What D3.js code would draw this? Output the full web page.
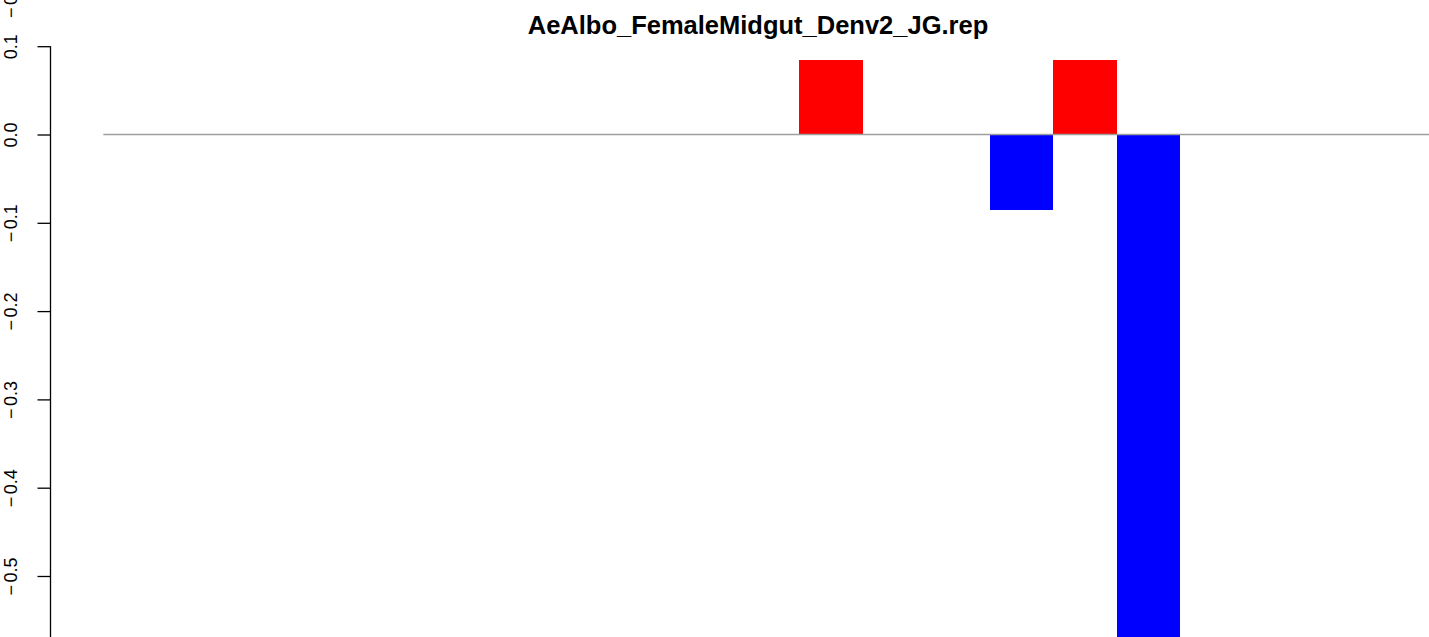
<!DOCTYPE html>
<html>
<head>
<meta charset="utf-8">
<script src="https://cdn.jsdelivr.net/npm/d3@7"></script>
<style>
  html, body { margin: 0; padding: 0; background: #fff; }
  svg { display: block; }
</style>
</head>
<body>
<svg id="chart" width="1429" height="637"></svg>
<script>
// ---- data ----
const title = "AeAlbo_FemaleMidgut_Denv2_JG.rep";
const categories = ["1","2","3","4","5","6","7","8","9","10","11","12","13","14","15","16","17","18","19","20","21"];
const values = [0,0,0,0,0,0,0,0,0,0,0,0.0845,0,0,-0.0855,0.0845,-0.60,0,0,0,0];
const yTicks = [0.1, 0.0, -0.1, -0.2, -0.3, -0.4, -0.5];
const clippedLabel = -0.6;

// ---- layout ----
const W = 1429, H = 637;
const FONT = "Liberation Sans, Arial, Helvetica, sans-serif";
const svg = d3.select("#chart");

const y = d3.scaleLinear().domain([-0.57, 0.1]).range([637.8, 46.2]);
const x = d3.scaleBand().domain(categories).range([99.9, 1434.5]).paddingInner(0).paddingOuter(0);

// write an R-style label (wide minus) into a text selection
function writeLabel(sel, v) {
  sel.text(null);
  if (v < 0) {
    sel.append("tspan").text("\u2212");
    sel.append("tspan").attr("dx", 2.5).text(Math.abs(v).toFixed(1));
  } else {
    sel.append("tspan").text(Math.abs(v).toFixed(1));
  }
}

// bars
svg.append("g").selectAll("rect").data(values.map((v, i) => ({c: categories[i], v})).filter(d => d.v !== 0))
  .join("rect")
  .attr("x", d => x(d.c))
  .attr("width", x.bandwidth())
  .attr("y", d => y(Math.max(0, d.v)))
  .attr("height", d => Math.abs(y(d.v) - y(0)))
  .attr("fill", d => d.v > 0 ? "#ff0000" : "#0000ff")
  .attr("shape-rendering", "crispEdges");

// zero line
svg.append("line")
  .attr("x1", 103.3).attr("x2", W)
  .attr("y1", y(0)).attr("y2", y(0))
  .attr("stroke", "#9e9e9e").attr("stroke-width", 1.6);

// y axis
const axX = 50.5;
const axis = d3.axisLeft(y).tickValues(yTicks).tickSize(13);
const gA = svg.append("g").attr("transform", `translate(${axX},0)`).call(axis);
gA.select(".domain").remove();
gA.attr("font-size", null).attr("font-family", null);
gA.append("line").attr("x1", 0).attr("x2", 0).attr("y1", y(0.1)).attr("y2", H)
  .attr("stroke", "#000").attr("stroke-width", 1.3);
gA.selectAll(".tick line").attr("stroke", "#000").attr("stroke-width", 1.3);
gA.selectAll(".tick text")
  .attr("x", null).attr("dy", null)
  .attr("transform", `translate(${17 - axX},0) rotate(-90)`)
  .attr("text-anchor", "middle")
  .style("font-family", FONT)
  .style("font-size", "18px")
  .attr("fill", "#000")
  .each(function(d) { writeLabel(d3.select(this), d); });

// clipped label from panel above
const cl = svg.append("text")
  .attr("transform", `translate(17,-1) rotate(-90)`)
  .attr("text-anchor", "middle")
  .style("font-family", FONT)
  .style("font-size", "18px");
writeLabel(cl, clippedLabel);

// title
svg.append("text")
  .attr("x", 758).attr("y", 34)
  .attr("text-anchor", "middle")
  .style("font-family", FONT)
  .style("font-weight", "bold")
  .style("font-size", "25.5px")
  .text(title);
</script>
</body>
</html>
